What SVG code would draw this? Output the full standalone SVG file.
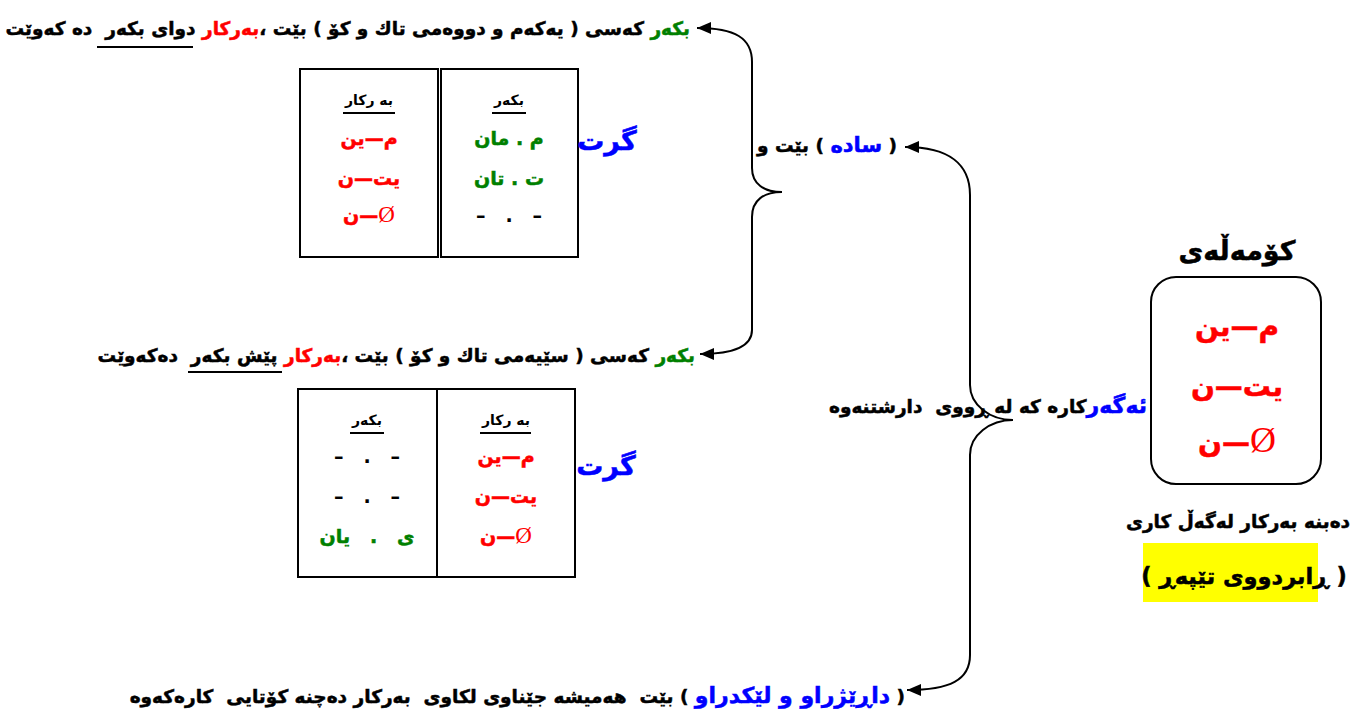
<svg xmlns="http://www.w3.org/2000/svg" width="1364" height="720" viewBox="0 0 1364 720">
<style>
text{font-family:"DejaVu Sans","Noto Sans",sans-serif;font-weight:bold;direction:rtl;stroke-width:0.5}
.m{font-size:18.5px;fill:#000;stroke:#000}
.g{fill:#008000;stroke:#008000}.r{fill:#ff0000;stroke:#ff0000}.b{fill:#0000ff;stroke:#0000ff}
.h{font-size:14px}
.row{font-size:19px}
.big{font-size:28px}
.o{font-family:"Liberation Serif",serif;font-weight:normal;stroke:none}
.ln{stroke:#000;stroke-width:2;fill:none}
.cell{fill:#fff;stroke:#000;stroke-width:2}
.ul{stroke:#000;stroke-width:2}
</style>
<defs>
<marker id="ah" viewBox="0 0 14 12" refX="14" refY="6" markerWidth="14" markerHeight="12" markerUnits="userSpaceOnUse" orient="auto-start-reverse">
<path d="M0,0 L14,6 L0,12 z" fill="#000"/>
</marker>
</defs>
<rect width="1364" height="720" fill="#fff"/>

<g id="connectors">
<path class="ln" marker-start="url(#ah)" marker-end="url(#ah)" d="M697,28 C735,28 752,38 752,62 L752,168 C752,184 764,192 782,192 C764,192 752,200 752,217 L752,330 C752,346 735,354 700,354"/>
<path class="ln" marker-start="url(#ah)" marker-end="url(#ah)" d="M905,147 C950,147 970,165 970,195 L970,385 C970,405 990,420 1013,420 C990,420 970,435 970,455 L970,655 C970,680 950,690 907,690"/>
</g>

<g id="top-line">
<text class="m" x="690" y="35" text-anchor="start" xml:space="preserve" font-size="18.3"><tspan class="g">بکەر</tspan> کەسی ( یەکەم و دووەمی تاك و کۆ ) بێت ،<tspan class="r">بەرکار</tspan> دوای بکەر  دە کەوێت</text>
<line class="ul" x1="97" y1="47" x2="193" y2="47"/>
</g>

<g id="simple">
<text class="m" x="897" y="152" text-anchor="start" font-size="17">( <tspan class="b" font-size="21">ساده</tspan> ) بێت و</text>
</g>

<g id="table1">
<rect class="cell" x="300" y="69" width="138" height="188"/>
<rect class="cell" x="441" y="69" width="137" height="188"/>
<text class="h" x="369" y="105" text-anchor="middle">به رکار</text>
<line class="ul" x1="343" y1="113" x2="395" y2="113"/>
<text class="h" x="509" y="105" text-anchor="middle">بکەر</text>
<line class="ul" x1="492" y1="113" x2="526" y2="113"/>
<text class="row r" x="369" y="145" text-anchor="middle">م—ین</text>
<text class="row r" x="369" y="185" text-anchor="middle">یت—ن</text>
<text class="row r" x="369" y="222" text-anchor="middle"><tspan class="o" font-size="23">Ø</tspan>—ن</text>
<text class="row g" x="509" y="145" text-anchor="middle" xml:space="preserve">م . مان</text>
<text class="row g" x="509" y="185" text-anchor="middle" xml:space="preserve">ت . تان</text>
<text class="row" x="509" y="222" text-anchor="middle" xml:space="preserve">–   .   –</text>
<text class="b" font-size="27" x="607" y="150" text-anchor="middle">گرت</text>
</g>

<g id="second-line">
<text class="m" x="695" y="362" text-anchor="start" xml:space="preserve" font-size="18.3"><tspan class="g">بکەر</tspan> کەسی ( سێیەمی تاك و کۆ ) بێت ،<tspan class="r">بەرکار</tspan> پێش بکەر  دەکەوێت</text>
<line class="ul" x1="188" y1="372" x2="282" y2="372"/>
</g>

<g id="table2">
<rect class="cell" x="298" y="389" width="139" height="188"/>
<rect class="cell" x="437" y="389" width="138" height="188"/>
<text class="h" x="367" y="425" text-anchor="middle">بکەر</text>
<line class="ul" x1="350" y1="433" x2="384" y2="433"/>
<text class="h" x="506" y="425" text-anchor="middle">به رکار</text>
<line class="ul" x1="480" y1="433" x2="531" y2="433"/>
<text class="row" x="367" y="463" text-anchor="middle" xml:space="preserve">–   .   –</text>
<text class="row" x="367" y="503" text-anchor="middle" xml:space="preserve">–   .   –</text>
<text class="row g" x="367" y="543" text-anchor="middle" xml:space="preserve">ی   .   یان</text>
<text class="row r" x="506" y="463" text-anchor="middle">م—ین</text>
<text class="row r" x="506" y="503" text-anchor="middle">یت—ن</text>
<text class="row r" x="506" y="543" text-anchor="middle"><tspan class="o" font-size="23">Ø</tspan>—ن</text>
<text class="b" font-size="27" x="606" y="475" text-anchor="middle">گرت</text>
</g>

<g id="condition">
<text class="m" x="1147" y="413" text-anchor="start" xml:space="preserve" font-size="19"><tspan class="b" font-size="22">ئەگەر</tspan>کارە کە لە ڕووی  دارشتنەوە</text>
</g>

<g id="group-box">
<text font-size="27" x="1237" y="260" text-anchor="middle" stroke="#000">کۆمەڵەی</text>
<rect x="1151" y="277" width="170" height="207" rx="25" ry="25" fill="#fff" stroke="#000" stroke-width="2"/>
<text class="big r" x="1237" y="336" text-anchor="middle">م—ین</text>
<text class="big r" x="1237" y="396" text-anchor="middle">یت—ن</text>
<text class="big r" x="1237" y="452" text-anchor="middle"><tspan class="o" font-size="36">Ø</tspan>—ن</text>
</g>

<g id="note">
<text class="m" x="1238" y="528" text-anchor="middle">دەبنە بەرکار لەگەڵ کاری</text>
<rect x="1143" y="543" width="175" height="59" fill="#ffff00"/>
<text font-size="22.5" x="1244" y="584" text-anchor="middle" stroke="#000">( ڕابردووی تێپەڕ )</text>
</g>

<g id="bottom-line">
<text class="m" x="905" y="703" text-anchor="start" xml:space="preserve" font-size="19.5">( <tspan class="b" font-size="22">داڕێژراو و لێکدراو</tspan> ) بێت  هەمیشە جێناوی لکاوی  بەرکار دەچنە کۆتایی  کارەکەوە</text>
</g>
</svg>
